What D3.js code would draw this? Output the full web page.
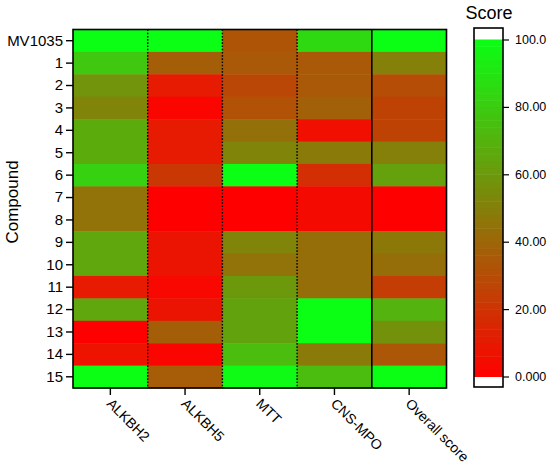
<!DOCTYPE html>
<html>
<head>
<meta charset="utf-8">
<script src="https://cdn.jsdelivr.net/npm/d3@7"></script>
<style>
  body { margin: 0; background: #fff; }
  svg text { font-family: Arial, "Liberation Sans", sans-serif; fill: #000; }
</style>
</head>
<body>
<svg id="chart" width="550" height="469"></svg>
<script>
// categories
const compounds = ["MV1035", "1", "2", "3", "4", "5", "6", "7", "8", "9", "10", "11", "12", "13", "14", "15"];
const assays = ["ALKBH2", "ALKBH5", "MTT", "CNS-MPO", "Overall score"];

// scores per assay, one value per compound
const alkbh2  = [100, 78, 58, 52, 67, 67, 82, 45, 45, 65, 65, 10, 65, 0, 7, 100];
const alkbh5  = [100, 37, 10, 2, 10, 10, 22, 0, 0, 8, 8, 3, 8, 37, 2, 36];
const mtt     = [33, 35, 28, 32, 44, 52, 100, 0, 0, 52, 45, 60, 64, 64, 74, 98];
const cnsMpo  = [85, 35, 35, 38, 6, 48, 18, 4, 4, 43, 43, 43, 100, 100, 48, 74];
const overall = [100, 50, 30, 26, 26, 50, 63, 0, 0, 47, 43, 24, 70, 57, 34, 100];

const colorTicks = [0, 20, 40, 60, 80, 100];
const colorTickLabels = ["0.000", "20.00", "40.00", "60.00", "80.00", "100.0"];

const series = [alkbh2, alkbh5, mtt, cnsMpo, overall];
const cells = [];
series.forEach((vals, ci) => {
    vals.forEach((v, ri) => cells.push({ assay: assays[ci], compound: compounds[ri], value: v }));
});

const FONT = "Arial, 'Liberation Sans', sans-serif";
const svg = d3.select("#chart");

const x = d3.scaleBand().domain(assays).range([73, 446.5]);
const y = d3.scaleBand().domain(compounds).range([29.5, 388]);
const color = d3.scaleLinear().domain([0, 100])
    .range(["rgb(255,0,0)", "rgb(10,255,20)"])
    .interpolate(d3.interpolateRgb);

// heatmap cells
svg.append("g").selectAll("rect")
    .data(cells)
    .join("rect")
    .attr("x", d => x(d.assay))
    .attr("y", d => y(d.compound))
    .attr("width", x.bandwidth() + 0.5)
    .attr("height", y.bandwidth() + 0.5)
    .attr("fill", d => color(d.value));

// column separators: dotted for the first three, solid before overall
const seps = svg.append("g");
assays.slice(1).forEach(a => {
    const solid = a === "Overall score";
    seps.append("line")
        .attr("x1", x(a)).attr("x2", x(a))
        .attr("y1", 29.5).attr("y2", 388)
        .attr("stroke", "#000")
        .attr("stroke-width", solid ? 1.6 : 1.4)
        .attr("stroke-dasharray", solid ? null : "1.6,1.6");
});

// frame
svg.append("rect")
    .attr("x", 73).attr("y", 29.5)
    .attr("width", 446.5 - 73).attr("height", 388 - 29.5)
    .attr("fill", "none").attr("stroke", "#000").attr("stroke-width", 1.6);

// y axis
const yAxis = svg.append("g")
    .attr("transform", "translate(73,0)")
    .call(d3.axisLeft(y).tickSize(7).tickPadding(3));
yAxis.select(".domain").remove();
yAxis.selectAll("line").attr("stroke-width", 1.4);
yAxis.selectAll("text").style("font-size", "15px").style("font-family", FONT);

// x axis
const xAxis = svg.append("g")
    .attr("transform", "translate(0,388)")
    .call(d3.axisBottom(x).tickSize(7).tickPadding(0));
xAxis.select(".domain").remove();
xAxis.selectAll("line").attr("stroke-width", 1.4);
xAxis.selectAll("text")
    .style("font-size", "14px")
    .style("font-family", FONT)
    .attr("x", 0).attr("y", 0)
    .attr("text-anchor", "start")
    .attr("dy", "0.35em")
    .attr("transform", "translate(-1,13) rotate(45)");

// y axis title
svg.append("text")
    .attr("transform", "translate(18,202) rotate(-90)")
    .attr("text-anchor", "middle")
    .style("font-size", "17px")
    .text("Compound");

// colour bar
const cb = svg.append("g");
const cbY = d3.scaleLinear().domain([0, 100]).range([376.5, 39.5]);
const steps = d3.range(0, 100, 2);
cb.selectAll("rect.step")
    .data(steps)
    .join("rect")
    .attr("class", "step")
    .attr("x", 474).attr("width", 29)
    .attr("y", d => cbY(d + 2))
    .attr("height", d => cbY(d) - cbY(d + 2) + 0.5)
    .attr("fill", d => color(d + 1));
cb.append("rect")
    .attr("x", 474).attr("y", 28)
    .attr("width", 29).attr("height", 387 - 28)
    .attr("fill", "none").attr("stroke", "#000").attr("stroke-width", 1.6);

const cbAxis = cb.append("g")
    .attr("transform", "translate(503,0)")
    .call(d3.axisRight(cbY).tickValues(colorTicks)
        .tickFormat((d, i) => colorTickLabels[i]).tickSize(6).tickPadding(6));
cbAxis.select(".domain").remove();
cbAxis.selectAll("line").attr("stroke-width", 1.2);
cbAxis.selectAll("text").style("font-size", "12.5px").style("font-family", FONT);

svg.append("text")
    .attr("x", 489).attr("y", 19)
    .attr("text-anchor", "middle")
    .style("font-size", "18px")
    .text("Score");
</script>
</body>
</html>
